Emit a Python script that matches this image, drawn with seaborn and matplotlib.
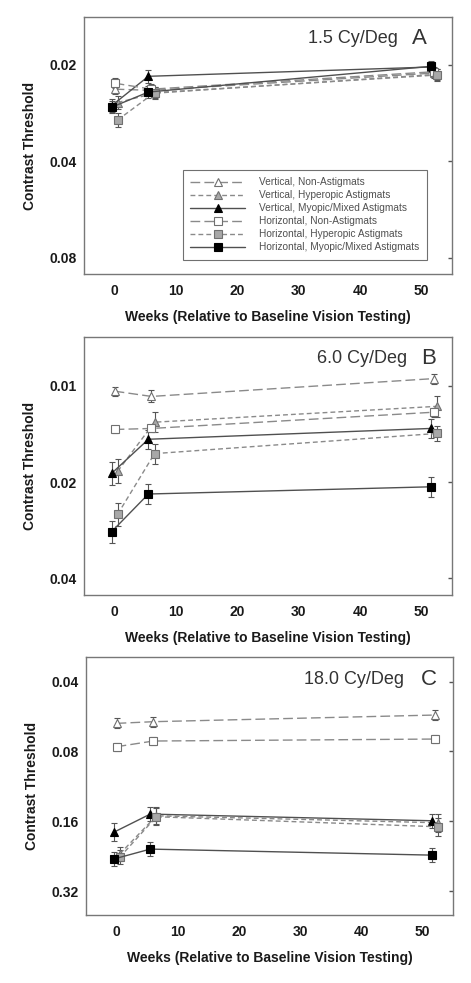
import numpy as np
import pandas as pd
import matplotlib
matplotlib.use("Agg")
import matplotlib.pyplot as plt
import seaborn as sns
from matplotlib.ticker import FixedLocator, FixedFormatter, NullLocator

# weeks of testing and the six groups
weeks = [0, 6, 52]
groups = ['Vertical, Non-Astigmats', 'Vertical, Hyperopic Astigmats',
          'Vertical, Myopic/Mixed Astigmats', 'Horizontal, Non-Astigmats',
          'Horizontal, Hyperopic Astigmats', 'Horizontal, Myopic/Mixed Astigmats']

# contrast thresholds (rows = groups, cols = weeks)
thr_a = [[0.0238, 0.0240, 0.0212],
         [0.0262, 0.0245, 0.0214],
         [0.0268, 0.0217, 0.0203],
         [0.0228, 0.0238, 0.0210],
         [0.0297, 0.0244, 0.0215],
         [0.0271, 0.0243, 0.0202]]
thr_b = [[0.0104, 0.0108, 0.0095],
         [0.0185, 0.0130, 0.0116],
         [0.0188, 0.0147, 0.0136],
         [0.0137, 0.0136, 0.0121],
         [0.0252, 0.0163, 0.0141],
         [0.0286, 0.0218, 0.0207]]
thr_c = [[0.0605, 0.0595, 0.0557],
         [0.2216, 0.1516, 0.1624],
         [0.1787, 0.1490, 0.1592],
         [0.0763, 0.0721, 0.0707],
         [0.2290, 0.1530, 0.1690],
         [0.2330, 0.2110, 0.2240]]

# half-length of error bars, in octaves (log2 units)
err_a = [[0.05, 0.05, 0.05], [0.07, 0.06, 0.06], [0.07, 0.065, 0.05],
         [0.05, 0.05, 0.05], [0.07, 0.06, 0.06], [0.06, 0.06, 0.06]]
err_b = [[0.045, 0.062, 0.052], [0.124, 0.103, 0.11], [0.12, 0.097, 0.103],
         [0.04, 0.04, 0.048], [0.12, 0.103, 0.076], [0.114, 0.107, 0.107]]
err_c = [[0.07, 0.07, 0.07], [0.1, 0.12, 0.13], [0.13, 0.1, 0.1],
         [0.06, 0.06, 0.06], [0.1, 0.12, 0.13], [0.1, 0.1, 0.1]]

panel_names = ['1.5 Cy/Deg', '6.0 Cy/Deg', '18.0 Cy/Deg']
panel_letters = ['A', 'B', 'C']
yticks_a = [0.02, 0.04, 0.08]
yticks_b = [0.01, 0.02, 0.04]
yticks_c = [0.04, 0.08, 0.16, 0.32]

# build long table
rows = []
jitter = [0.0, 0.5, -0.5, 0.0, 0.5, -0.5]
for p, (thr, err) in enumerate(zip([thr_a, thr_b, thr_c], [err_a, err_b, err_c])):
    for g, name in enumerate(groups):
        for w, wk in enumerate(weeks):
            rows.append({'panel': p, 'group': name, 'week': wk,
                         'x': wk + jitter[g], 'thr': thr[g][w], 'err': err[g][w]})
df = pd.DataFrame(rows)

sns.set_theme(style='white')
plt.rcParams['font.family'] = ['Liberation Sans', 'DejaVu Sans']

long_dash = (0, (7, 3))
short_dash = (0, (3.5, 2.2))
styles = [
    dict(color='#8a8a8a', linestyle=long_dash, marker='^', mfc='white', mec='#707070'),
    dict(color='#8a8a8a', linestyle=short_dash, marker='^', mfc='#a8a8a8', mec='#707070'),
    dict(color='#505050', linestyle='-', marker='^', mfc='black', mec='black'),
    dict(color='#8a8a8a', linestyle=long_dash, marker='s', mfc='white', mec='#707070'),
    dict(color='#8a8a8a', linestyle=short_dash, marker='s', mfc='#a8a8a8', mec='#707070'),
    dict(color='#505050', linestyle='-', marker='s', mfc='black', mec='black'),
]

fig = plt.figure(figsize=(4.71, 9.83), dpi=100)
boxes = [[0.1783, 0.7213, 0.7814, 0.2614],
         [0.1783, 0.3947, 0.7814, 0.2625],
         [0.1826, 0.0692, 0.7792, 0.2624]]
ylims = [(0.0898, 0.01417), (0.0451, 0.00704), (0.406, 0.0313)]
yticks = [yticks_a, yticks_b, yticks_c]
name_pos = [(0.853, 0.918, 0.910), (0.878, 0.918, 0.936), (0.866, 0.914, 0.933)]

for p in range(3):
    ax = fig.add_axes(boxes[p])
    for g, name in enumerate(groups):
        sub = df[(df['panel'] == p) & (df['group'] == name)]
        st = styles[g]
        sns.lineplot(data=sub, x='x', y='thr', ax=ax, errorbar=None, legend=False,
                     color=st['color'], linestyle=st['linestyle'], linewidth=1,
                     marker=st['marker'], markersize=6, mfc=st['mfc'],
                     mec=st['mec'], mew=0.8, label=name if p == 0 else None,
                     zorder=3)
        lo = sub['thr'] - sub['thr'] * 2 ** (-sub['err'])
        hi = sub['thr'] * 2 ** sub['err'] - sub['thr']
        ax.errorbar(sub['x'], sub['thr'], yerr=[lo, hi], fmt='none',
                    ecolor='#555555', elinewidth=0.8, capsize=2.5,
                    capthick=0.8, zorder=2)

    ax.set_yscale('log', base=2)
    ax.set_ylim(*ylims[p])
    ax.set_xlim(-5, 55)
    ax.yaxis.set_major_locator(FixedLocator(yticks[p]))
    ax.yaxis.set_major_formatter(FixedFormatter([f'{t:g}' for t in yticks[p]]))
    ax.yaxis.set_minor_locator(NullLocator())
    ax.set_xticks([0, 10, 20, 30, 40, 50])
    ax.tick_params(axis='both', direction='in', length=3, width=1,
                   color='#555555', labelsize=10, labelcolor='#1a1a1a')
    ax.tick_params(axis='y', right=True, pad=5)
    ax.tick_params(axis='x', pad=7)
    for lab in ax.get_xticklabels() + ax.get_yticklabels():
        lab.set_fontweight('bold')
    for sp in ax.spines.values():
        sp.set_color('#777777')
        sp.set_linewidth(1)
    ax.set_xlabel('Weeks (Relative to Baseline Vision Testing)', fontsize=10,
                  fontweight='bold', color='#1a1a1a', labelpad=9)
    ax.set_ylabel('Contrast Threshold', fontsize=10, fontweight='bold',
                  color='#1a1a1a', labelpad=9)
    nx, ny, lx = name_pos[p]
    ax.text(nx, ny, panel_names[p], transform=ax.transAxes, ha='right',
            va='center', fontsize=13, color='#333333')
    ax.text(lx, ny, panel_letters[p], transform=ax.transAxes, ha='center',
            va='center', fontsize=16, color='#333333')

    if p == 0:
        leg = ax.legend(loc='lower right', bbox_to_anchor=(0.932, 0.0545),
                        borderaxespad=0, fontsize=7.3, handlelength=5.4,
                        handletextpad=1.4, labelspacing=0.3, borderpad=0.75,
                        fancybox=False, framealpha=1, edgecolor='#707070',
                        labelcolor='#505050')
        leg.get_frame().set_linewidth(0.8)

fig.savefig('out.png', dpi=100)
